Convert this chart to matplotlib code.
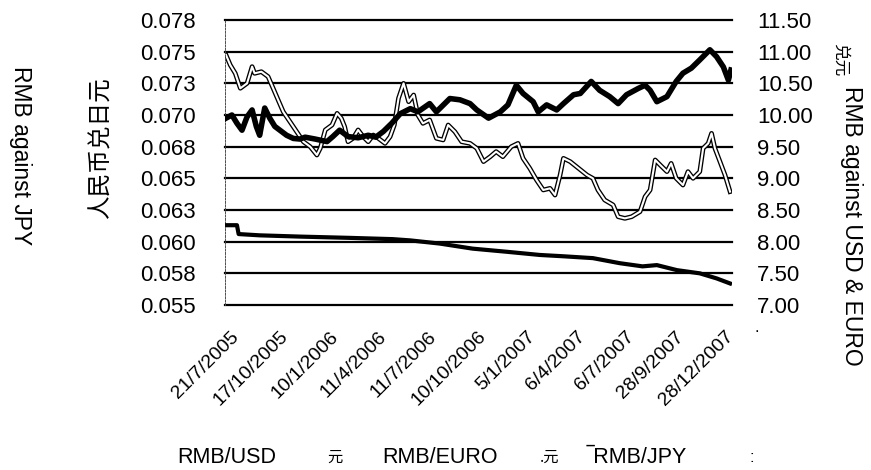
import matplotlib
matplotlib.use("Agg")
import matplotlib.pyplot as plt

plt.rcParams['font.family'] = ['Liberation Sans', 'DejaVu Sans']

# x values are trading days counted from 21/7/2005
usd_day = [0, 13, 15, 40, 88, 147, 198, 219, 254, 293, 334, 373, 400, 436,
           468, 495, 512, 536, 563, 583, 599]
usd = [8.26, 8.26, 8.12, 8.10, 8.08, 8.06, 8.04, 8.02, 7.97, 7.89, 7.84, 7.79,
       7.77, 7.74, 7.66, 7.61, 7.63, 7.55, 7.50, 7.42, 7.34]

euro_day = [0, 7, 13, 19, 25, 31, 36, 40, 46, 52, 58, 64, 72, 80, 88, 94, 106,
            120, 127, 135, 145, 157, 169, 178, 187, 197, 207, 219, 228, 242,
            250, 266, 278, 290, 298, 312, 326, 335, 345, 353, 365, 371, 381,
            393, 401, 413, 421, 434, 444, 456, 466, 476, 490, 498, 504, 512,
            524, 535, 543, 553, 563, 575, 583, 591, 597, 600]
euro = [9.95, 10.00, 9.87, 9.76, 9.97, 10.08, 9.82, 9.68, 10.11, 9.95, 9.82,
        9.76, 9.68, 9.63, 9.62, 9.65, 9.62, 9.58, 9.66, 9.76, 9.66, 9.64, 9.68,
        9.65, 9.74, 9.87, 10.02, 10.10, 10.05, 10.18, 10.05, 10.26, 10.24,
        10.18, 10.08, 9.95, 10.05, 10.16, 10.47, 10.34, 10.21, 10.05, 10.16,
        10.08, 10.18, 10.32, 10.34, 10.53, 10.39, 10.29, 10.18, 10.32, 10.42,
        10.47, 10.39, 10.21, 10.29, 10.53, 10.66, 10.74, 10.87, 11.03, 10.92,
        10.76, 10.55, 10.71]

jpy_day = [0, 5, 11, 17, 25, 31, 34, 42, 50, 56, 62, 68, 76, 84, 92, 100, 108,
           112, 118, 126, 132, 137, 141, 145, 151, 157, 163, 169, 175, 181,
           189, 195, 200, 205, 211, 217, 223, 228, 234, 242, 250, 258, 264,
           272, 280, 290, 298, 306, 314, 321, 329, 339, 347, 353, 361, 369,
           377, 385, 391, 397, 401, 409, 419, 429, 436, 442, 450, 460, 466,
           474, 482, 492, 498, 504, 510, 516, 524, 529, 535, 543, 549, 555,
           563, 567, 573, 577, 581, 587, 593, 599]
jpy = [0.07474, 0.07395, 0.07329, 0.07211, 0.07250, 0.07382, 0.07329, 0.07342,
       0.07303, 0.07211, 0.07118, 0.07026, 0.06947, 0.06868, 0.06789, 0.06750,
       0.06684, 0.06737, 0.06882, 0.06921, 0.07013, 0.06974, 0.06908, 0.06789,
       0.06816, 0.06882, 0.06829, 0.06789, 0.06842, 0.06816, 0.06776, 0.06829,
       0.06921, 0.07132, 0.07250, 0.07105, 0.07158, 0.07000, 0.06934, 0.06961,
       0.06816, 0.06803, 0.06921, 0.06868, 0.06789, 0.06776, 0.06737, 0.06632,
       0.06671, 0.06711, 0.06671, 0.06750, 0.06776, 0.06658, 0.06579, 0.06487,
       0.06408, 0.06421, 0.06368, 0.06526, 0.06658, 0.06632, 0.06579, 0.06526,
       0.06500, 0.06408, 0.06329, 0.06290, 0.06197, 0.06184, 0.06197, 0.06237,
       0.06355, 0.06408, 0.06645, 0.06605, 0.06553, 0.06618, 0.06500, 0.06447,
       0.06553, 0.06500, 0.06553, 0.06737, 0.06776, 0.06855, 0.06737, 0.06632,
       0.06526, 0.06395]

date_labels = ['21/7/2005', '17/10/2005', '10/1/2006', '11/4/2006', '11/7/2006',
               '10/10/2006', '5/1/2007', '6/4/2007', '6/7/2007', '28/9/2007',
               '28/12/2007']
label_days = [12, 71, 130, 188, 247, 306, 365, 424, 482, 541, 600]

jpy_ticks = [0.0775, 0.075, 0.0725, 0.07, 0.0675, 0.065, 0.0625, 0.06, 0.0575, 0.055]
jpy_ticklabels = ['0.078', '0.075', '0.073', '0.070', '0.068', '0.065', '0.063',
                  '0.060', '0.058', '0.055']
usd_ticks = [11.5, 11.0, 10.5, 10.0, 9.5, 9.0, 8.5, 8.0, 7.5, 7.0]
usd_ticklabels = ['11.50', '11.00', '10.50', '10.00', '9.50', '9.00', '8.50',
                  '8.00', '7.50', '7.00']

fig = plt.figure(figsize=(8.71, 4.70), dpi=100)
ax = fig.add_axes([225 / 871, 1 - 305 / 470, 507 / 871, 285 / 470])
ax2 = ax.twinx()

ax.set_xlim(-1.2, 601.3)
ax.set_ylim(0.055, 0.0775)
ax2.set_ylim(7.0, 11.5)

# horizontal grid on the back axes
ax.set_yticks(jpy_ticks)
ax.set_yticklabels(jpy_ticklabels)
ax.grid(axis='y', color='black', lw=1.6)
for gl in ax.get_ygridlines():
    gl.set_clip_on(False)
ax.set_axisbelow(True)

ax2.set_yticks(usd_ticks)
ax2.set_yticklabels(usd_ticklabels)

# JPY: hollow line (black outline, white core)
ax.plot(jpy_day, jpy, color='black', lw=3.4, solid_joinstyle='round')
ax.plot(jpy_day, jpy, color='white', lw=1.5, solid_joinstyle='round')

ax2.plot(euro_day, euro, color='black', lw=4.0, solid_joinstyle='round')
ax2.plot(usd_day, usd, color='black', lw=3.0, solid_joinstyle='round')

for s in ['top', 'right', 'bottom']:
    ax.spines[s].set_visible(False)
ax.spines['left'].set_linewidth(0.7)
ax.spines['left'].set_color('0.3')
ax.spines['left'].set_linestyle((0, (2, 1.5)))
for s in ax2.spines.values():
    s.set_visible(False)

ax.set_xticks(label_days)
ax.set_xticklabels(date_labels)
ax.tick_params(axis='x', length=0, pad=21, labelsize=14)
for lab in ax.get_xticklabels():
    lab.set_rotation(45)
    lab.set_ha('right')
    lab.set_va('center')
    lab.set_rotation_mode('anchor')
ax.tick_params(axis='y', length=0, pad=21, labelsize=16)
ax2.tick_params(axis='y', length=0, pad=18, labelsize=16)

fig.text(20 / 871, 1 - 156 / 470, 'RMB against JPY', rotation=-90,
         ha='center', va='center', fontsize=16.5)
fig.text(101 / 871, 1 - 147 / 470, '人民币兑日元', rotation=90, ha='center',
         va='center', fontsize=17, fontweight='light', family=['Noto Sans CJK SC'])
fig.text(851 / 871, 1 - 226 / 470, 'RMB against USD & EURO', rotation=-90,
         ha='center', va='center', fontsize=16.5)
fig.text(840 / 871, 1 - 60 / 470, '兑元', rotation=-90, ha='center',
         va='center', fontsize=12, fontweight='light', family=['Noto Sans CJK SC'])
fig.text(757 / 871, 1 - 328 / 470, '.', ha='center', va='center', fontsize=12)

# legend row (as printed)
ly = 1 - 457.5 / 470
fig.text(177 / 871, ly, 'RMB/USD', ha='left', va='center', fontsize=15.5)
fig.text(335 / 871, ly, '元', ha='center', va='center', fontsize=11,
         family=['Noto Sans CJK SC'])
fig.text(382 / 871, ly, 'RMB/EURO', ha='left', va='center', fontsize=15.5)
fig.text(550 / 871, ly, '.元', ha='center', va='center', fontsize=11,
         family=['Noto Sans CJK SC'])
fig.text(587 / 871, ly, '\u203eRMB/JPY', ha='left', va='center', fontsize=15.5)
fig.text(752 / 871, ly, ':', ha='center', va='center', fontsize=12)

fig.savefig('out.png', dpi=100)
